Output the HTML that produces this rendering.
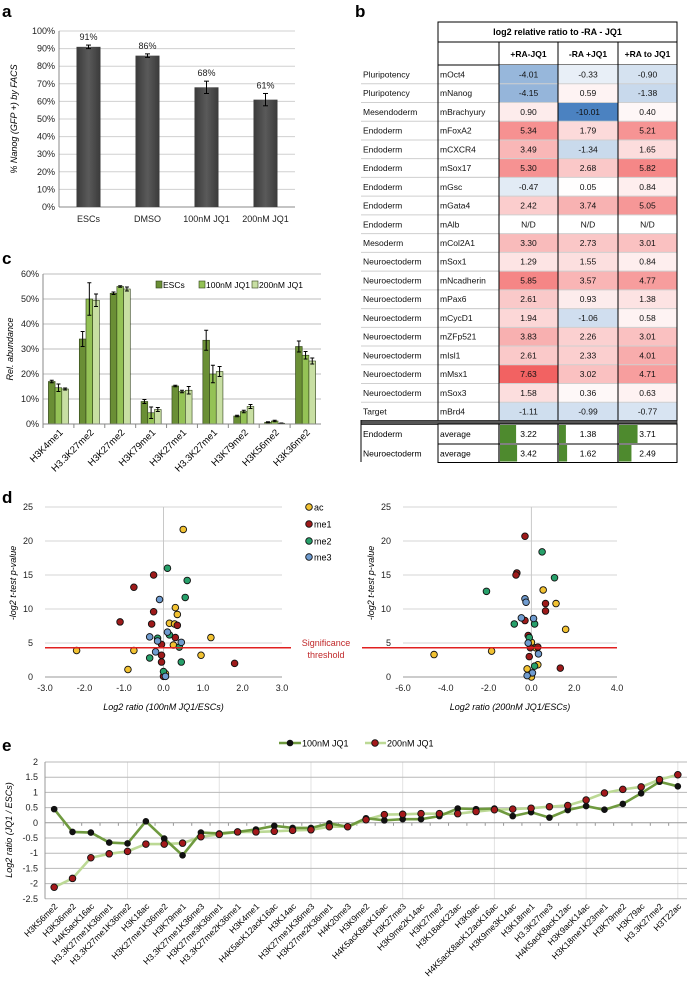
<!DOCTYPE html>
<html><head><meta charset="utf-8"><style>
html,body{margin:0;padding:0;background:#fff;}
svg{display:block;font-family:"Liberation Sans",sans-serif;}
</style></head><body>
<svg id="fig" width="687" height="990" viewBox="0 0 687 990" xmlns="http://www.w3.org/2000/svg"></svg>
<script>
// ---- Panel a data ----
const aCats=["ESCs","DMSO","100nM JQ1","200nM JQ1"];
const aVals=[91,86,68,61];
const aErr=[1,1,3.5,3.5];
const aTicks=[0,10,20,30,40,50,60,70,80,90,100];
// ---- Panel b data ----
const bCat=["Pluripotency","Pluripotency","Mesendoderm","Endoderm","Endoderm","Endoderm","Endoderm","Endoderm","Endoderm","Mesoderm","Neuroectoderm","Neuroectoderm","Neuroectoderm","Neuroectoderm","Neuroectoderm","Neuroectoderm","Neuroectoderm","Neuroectoderm","Target"];
const bGene=["mOct4","mNanog","mBrachyury","mFoxA2","mCXCR4","mSox17","mGsc","mGata4","mAlb","mCol2A1","mSox1","mNcadherin","mPax6","mCycD1","mZFp521","mIsl1","mMsx1","mSox3","mBrd4"];
const bCol1=[-4.01,-4.15,0.90,5.34,3.49,5.30,-0.47,2.42,null,3.30,1.29,5.85,2.61,1.94,3.83,2.61,7.63,1.58,-1.11];
const bCol2=[-0.33,0.59,-10.01,1.79,-1.34,2.68,0.05,3.74,null,2.73,1.55,3.57,0.93,-1.06,2.26,2.33,3.02,0.36,-0.99];
const bCol3=[-0.90,-1.38,0.40,5.21,1.65,5.82,0.84,5.05,null,3.01,0.84,4.77,1.38,0.58,3.01,4.01,4.71,0.63,-0.77];
const bHeads=["+RA-JQ1","-RA +JQ1","+RA to JQ1"];
const bAvgCat=["Endoderm","Neuroectoderm"];
const bAvgE=[3.22,1.38,3.71];
const bAvgN=[3.42,1.62,2.49];
// ---- Panel c data ----
const cCats=["H3K4me1","H3.3K27me2","H3K27me2","H3K79me1","H3K27me1","H3.3K27me1","H3K79me2","H3K56me2","H3K36me2"];
const cESC=[17,34,52.3,9,15.2,33.5,3.2,0.7,31];
const c100=[14.5,50,55,4.5,13,20,5,1.2,27.5];
const c200=[14,49.5,54,5.8,13.5,21,7,0.3,25.2];
const cESCerr=[0.5,3,0.5,0.8,0.3,4,0.3,0.2,2.2];
const c100err=[1.5,6.5,0.3,2.3,0.5,3.5,0.5,0.3,1.5];
const c200err=[0.4,2.5,0.8,0.8,1.5,2,0.8,0.1,1.2];
const cTicks=[0,10,20,30,40,50,60];
// ---- Panel d data ----
const dL_acX=[0.5,0.3,0.35,0.15,0.28,0.25,1.2,0.95,-0.75,-2.2,-0.9,0.05];
const dL_acY=[21.7,10.2,9.2,7.9,7.8,4.7,5.8,3.2,3.9,3.9,1.1,0.5];
const dL_me1X=[-0.25,-0.75,-1.1,-0.25,-0.3,0.35,0.3,-0.05,-0.05,-0.05,1.8,0];
const dL_me1Y=[15,13.2,8.1,9.6,7.8,7.6,5.8,4.8,3.2,2.2,2.0,0.1];
const dL_me2X=[0.1,0.6,0.55,0.15,-0.15,0.4,-0.35,0.45,0];
const dL_me2Y=[16,14.2,11.7,6.2,5.7,4.4,2.8,2.2,0.8];
const dL_me3X=[-0.1,0.1,-0.35,-0.15,0.45,-0.2,0.05];
const dL_me3Y=[11.4,6.6,5.9,5.3,5.1,3.7,0.1];
const dR_acX=[0.55,1.15,1.6,0,0.2,-1.86,-4.55,0.3,-0.2,0];
const dR_acY=[12.8,10.8,7.0,5.1,4.3,3.8,3.3,1.8,1.2,0];
const dR_me1X=[-0.3,-0.68,-0.72,0.66,0.66,-0.3,-0.15,-0.05,-0.1,1.35,0.3];
const dR_me1Y=[20.7,15.3,15.0,10.8,9.7,8.3,6.1,4.3,3.0,1.3,4.4];
const dR_me2X=[0.5,1.08,-2.1,-0.8,0.15,-0.1,0.15];
const dR_me2Y=[18.4,14.6,12.6,7.8,7.8,5.8,1.6];
const dR_me3X=[-0.3,-0.25,-0.47,0.1,-0.15,0.33,0.05,-0.2];
const dR_me3Y=[11.5,11.0,8.7,8.6,5.0,3.4,0.6,0.2];
const dYTicks=[0,5,10,15,20,25];
const dLXTicks=[-3,-2,-1,0,1,2,3];
const dRXTicks=[-6,-4,-2,0,2,4];
const dThreshold=4.3;
// ---- Panel e data ----
const eCats=["H3K56me2","H3K36me2","H4K5acK16ac","H3.3K27me1K36me1","H3.3K27me1K36me2","H3K18ac","H3K27me1K36me2","H3K79me1","H3.3K27me1K36me3","H3K27me3K36me1","H3.3K27me2K36me1","H3K4me1","H4K5acK12acK16ac","H3K14ac","H3K27me1K36me3","H3K27me2K36me1","H4K20me3","H3K9me2","H4K5acK8acK16ac","H3K27me3","H3K9me2K14ac","H3K27me2","H3K18acK23ac","H3K9ac","H4K5acK8acK12acK16ac","H3K9me3K14ac","H3K18me1","H3.3K27me3","H4K5acK8acK12ac","H3K9acK14ac","H3K18me1K23me1","H3K79me2","H3K79ac","H3.3K27me2","H3T22ac"];
const e100=[0.45,-0.3,-0.32,-0.65,-0.68,0.05,-0.52,-1.07,-0.32,-0.35,-0.3,-0.22,-0.1,-0.17,-0.17,-0.02,-0.13,0.15,0.08,0.12,0.12,0.22,0.47,0.45,0.47,0.22,0.35,0.17,0.42,0.55,0.43,0.62,0.97,1.35,1.2];
const e200=[-2.12,-1.83,-1.15,-1.02,-0.94,-0.7,-0.7,-0.67,-0.46,-0.38,-0.3,-0.3,-0.28,-0.25,-0.23,-0.13,-0.13,0.1,0.27,0.28,0.3,0.3,0.3,0.37,0.43,0.45,0.48,0.53,0.57,0.75,0.98,1.1,1.18,1.42,1.58];
const eTicks=[2,1.5,1,0.5,0,-0.5,-1,-1.5,-2,-2.5];

const NS="http://www.w3.org/2000/svg";
const svg=document.getElementById('fig');
function mk(tag,attrs,parent,text){const e=document.createElementNS(NS,tag);for(const k in attrs)e.setAttribute(k,attrs[k]);if(text!==undefined)e.textContent=text;(parent||svg).appendChild(e);return e;}
function grp(name){const g=mk('g',{});


return g;}

[["a",2,17],["b",355,17],["c",2,264],["d",2,503],["e",2,751]].forEach(p=>{const t=mk('text',{x:p[1],y:p[2],'font-size':17,'font-weight':'bold'},svg,p[0]);

});

// ===== Panel a =====
(function(){
const g=grp('panel-a-bar-chart');
const x0=59,x1=295,yb=207,yt=31;
const ya=v=>yb-(v/100)*(yb-yt);
aTicks.forEach(t=>{mk('line',{x1:x0,x2:x1,y1:ya(t),y2:ya(t),stroke:'#d0d0d0','stroke-width':1},g);
const tl=mk('text',{x:x0-4,y:ya(t)+3,'font-size':9,'text-anchor':'end',fill:'#222'},g,t+'%');

});
mk('line',{x1:x0,x2:x0,y1:yt,y2:yb,stroke:'#888'},g);
mk('line',{x1:x0,x2:x1,y1:yb,y2:yb,stroke:'#888'},g);
const defs=mk('defs',{},g);
const lg=mk('linearGradient',{id:'ga',x1:0,x2:1,y1:0,y2:0},defs);
mk('stop',{offset:0,'stop-color':'#3a3a3a'},lg);mk('stop',{offset:0.5,'stop-color':'#5a5a5a'},lg);mk('stop',{offset:1,'stop-color':'#3a3a3a'},lg);
const step=(x1-x0)/aCats.length;
aCats.forEach((c,i)=>{const cx=x0+step*(i+0.5);
const r=mk('rect',{x:cx-12,y:ya(aVals[i]),width:24,height:yb-ya(aVals[i]),fill:'url(#ga)'},g);


const e1=ya(aVals[i]+aErr[i]),e2=ya(aVals[i]-aErr[i]);
mk('line',{x1:cx,x2:cx,y1:e1,y2:e2,stroke:'#000'},g);mk('line',{x1:cx-2.5,x2:cx+2.5,y1:e1,y2:e1,stroke:'#000'},g);mk('line',{x1:cx-2.5,x2:cx+2.5,y1:e2,y2:e2,stroke:'#000'},g);
const vl=mk('text',{x:cx,y:e1-5,'font-size':9,'text-anchor':'middle',fill:'#222'},g,aVals[i]+'%');


const cl=mk('text',{x:cx,y:222,'font-size':9,'text-anchor':'middle',fill:'#222'},g,c);

});
const yt2=mk('text',{x:0,y:0,'font-size':9,'font-style':'italic','text-anchor':'middle',transform:'translate(17,119) rotate(-90)'},g,'% Nanog (GFP +) by FACS');


})();

// ===== Panel b =====
(function(){
const g=grp('panel-b-heatmap-table');
const cx=[361,438,499,558,618,677];
const top=22,h1=42,h2=65,rh=(421-65)/19;
function color(v){if(v===null)return '#ffffff';
if(v>=0){const t=Math.min(v/8,1);const r=255-Math.round(t*14),gg=255-Math.round(t*165),b=255-Math.round(t*165);return `rgb(${r},${gg},${b})`;}
const t=Math.min(-v/10,1);const k=Math.pow(t,0.6);return `rgb(${255-Math.round(k*180)},${255-Math.round(k*125)},${255-Math.round(k*62)})`;}
mk('rect',{x:cx[1],y:top,width:cx[5]-cx[1],height:h2-top,fill:'#fff',stroke:'#000','stroke-width':1},g);
mk('line',{x1:cx[1],x2:cx[5],y1:h1,y2:h1,stroke:'#000'},g);
const ht=mk('text',{x:(cx[1]+cx[5])/2,y:35,'font-size':9,'font-weight':'bold','text-anchor':'middle'},g,'log2 relative ratio to -RA - JQ1');


bHeads.forEach((h,j)=>{mk('line',{x1:cx[j+2],x2:cx[j+2],y1:h1,y2:h2,stroke:'#000'},g);
const t=mk('text',{x:(cx[j+2]+cx[j+3])/2,y:57,'font-size':8.5,'font-weight':'bold','text-anchor':'middle'},g,h);

});
const cols=[bCol1,bCol2,bCol3];
bGene.forEach((gname,i)=>{const y=h2+rh*i;
mk('line',{x1:cx[0],x2:cx[5],y1:y+rh,y2:y+rh,stroke:'#cfcfcf'},g);
cols.forEach((col,j)=>{const r=mk('rect',{x:cx[j+2],y:y,width:cx[j+3]-cx[j+2],height:rh,fill:color(col[i])},g);


const t=mk('text',{x:(cx[j+2]+cx[j+3])/2,y:y+rh/2+3,'font-size':8.5,'text-anchor':'middle',fill:'#111'},g,col[i]===null?'N/D':col[i].toFixed(2));

});
const c=mk('text',{x:cx[0]+2,y:y+rh/2+3,'font-size':8.5,fill:'#111'},g,bCat[i]);


const gn=mk('text',{x:cx[1]+2,y:y+rh/2+3,'font-size':8.5,fill:'#111'},g,gname);

});
for(let i=0;i<19;i++){mk('line',{x1:cx[1],x2:cx[5],y1:h2+rh*(i+1),y2:h2+rh*(i+1),stroke:'#cfcfcf'},g);}
[1,2,3,4,5].forEach(k=>mk('line',{x1:cx[k],x2:cx[k],y1:h2,y2:421,stroke:'#000'},g));
mk('rect',{x:cx[0],y:420.5,width:cx[5]-cx[0],height:4,fill:'#555',stroke:'#222','stroke-width':0.8},g);
const avgs=[bAvgE,bAvgN];const ay=[424,444],ah=[20,18.5];
avgs.forEach((arr,i)=>{const y=ay[i];
mk('rect',{x:cx[1],y:y,width:cx[5]-cx[1],height:ah[i],fill:'#fff',stroke:'#000'},g);
const c=mk('text',{x:cx[0]+2,y:y+ah[i]/2+3,'font-size':8.5},g,bAvgCat[i]);


mk('text',{x:cx[1]+2,y:y+ah[i]/2+3,'font-size':8.5},g,'average');
arr.forEach((v,j)=>{const x=cx[j+2];
mk('line',{x1:x,x2:x,y1:y,y2:y+ah[i],stroke:'#000','stroke-width':1.2},g);
const b=mk('rect',{x:x+1,y:y+1,width:v*5,height:ah[i]-2,fill:'#4e8a2e'},g);


const t=mk('text',{x:(x+cx[j+3])/2,y:y+ah[i]/2+3,'font-size':8.5,'text-anchor':'middle'},g,v.toFixed(2));

});});
mk('line',{x1:cx[0],x2:cx[0],y1:420,y2:462,stroke:'#000'},g);
})();

// ===== Panel c =====
(function(){
const g=grp('panel-c-grouped-bar-chart');
const x0=43,x1=321,yb=424,yt=274;
const yc=v=>yb-(v/60)*(yb-yt);
cTicks.forEach(t=>{mk('line',{x1:x0,x2:x1,y1:yc(t),y2:yc(t),stroke:'#bdbdbd'},g);
const tl=mk('text',{x:x0-4,y:yc(t)+3,'font-size':9,'text-anchor':'end',fill:'#222'},g,t+'%');

});
mk('line',{x1:x0,x2:x0,y1:yt,y2:yb,stroke:'#888'},g);
const step=(x1-x0)/cCats.length,bw=6.7;
const series=[[cESC,cESCerr,'#6a8f35'],[c100,c100err,'#94c256'],[c200,c200err,'#c8dfa3']];
cCats.forEach((c,i)=>{const cx=x0+step*(i+0.5);
mk('line',{x1:x0+step*i,x2:x0+step*i,y1:yb,y2:yb+4,stroke:'#888'},g);
series.forEach((s,k)=>{const bx=cx+(k-1)*bw-bw/2;const v=s[0][i];
const r=mk('rect',{x:bx,y:yc(v),width:bw,height:yb-yc(v),fill:s[2],stroke:'#2e3f18','stroke-width':0.6},g);


const e1=yc(v+s[1][i]),e2=yc(Math.max(0,v-s[1][i])),ex=bx+bw/2;
mk('line',{x1:ex,x2:ex,y1:e1,y2:e2,stroke:'#000'},g);mk('line',{x1:ex-2,x2:ex+2,y1:e1,y2:e1,stroke:'#000'},g);mk('line',{x1:ex-2,x2:ex+2,y1:e2,y2:e2,stroke:'#000'},g);});
const tl=mk('text',{x:0,y:0,'font-size':9.5,'text-anchor':'end',transform:`translate(${cx+5},${433}) rotate(-45)`},g,c);

});
mk('line',{x1:x0,x2:x1,y1:yb,y2:yb,stroke:'#888'},g);
const ytl=mk('text',{x:0,y:0,'font-size':9,'font-style':'italic','text-anchor':'middle',transform:'translate(13,349) rotate(-90)'},g,'Rel. abundance');


[["ESCs",156,'#6a8f35'],["100nM JQ1",199,'#94c256'],["200nM JQ1",252,'#c8dfa3']].forEach(l=>{
const le=mk('g',{},g);


mk('rect',{x:l[1],y:281,width:6,height:7,fill:l[2],stroke:'#2e3f18','stroke-width':0.6},le);
mk('text',{x:l[1]+7,y:288,'font-size':8.5},le,l[0]);});
})();

// ===== Panel d =====
function scatter(name,x0,x1,xmin,xmax,xticks,sets,showLegend,xtitle,ylx){
const g=grp(name);
const yb=677,yt=507;
const yd=v=>yb-(v/25)*(yb-yt);
const xd=v=>x0+(v-xmin)/(xmax-xmin)*(x1-x0);
dYTicks.forEach(t=>{if(t>0)mk('line',{x1:x0,x2:x1,y1:yd(t),y2:yd(t),stroke:'#d5d5d5'},g);
const tl=mk('text',{x:x0-12,y:yd(t)+3,'font-size':9,'text-anchor':'end',fill:'#222'},g,t);

});
mk('line',{x1:xd(0),x2:xd(0),y1:yt,y2:yb,stroke:'#c8c8c8'},g);
mk('line',{x1:x0,x2:x1,y1:yb,y2:yb,stroke:'#999'},g);
xticks.forEach(t=>{const tl=mk('text',{x:xd(t),y:691,'font-size':9,'text-anchor':'middle',fill:'#222'},g,t.toFixed(1));

});
sets.forEach(s=>{s[0].forEach((xv,i)=>{const c=mk('circle',{cx:xd(xv),cy:yd(s[1][i]),r:3.3,fill:s[2],stroke:'#111','stroke-width':0.9},g);

});});
const xt=mk('text',{x:(x0+x1)/2,y:710,'font-size':9,'font-style':'italic','text-anchor':'middle'},g,xtitle);


const yt2=mk('text',{x:0,y:0,'font-size':9,'font-style':'italic','text-anchor':'middle',transform:`translate(${ylx},583) rotate(-90)`},g,'-log2 t-test p-value');


return yd;}
const cols={ac:'#f2c232',me1:'#9e1a1a',me2:'#27a06a',me3:'#6f9bcf'};
const ydL=scatter('panel-d-left-scatter',45,282,-3,3,dLXTicks,[[dL_acX,dL_acY,cols.ac,'ac'],[dL_me1X,dL_me1Y,cols.me1,'me1'],[dL_me2X,dL_me2Y,cols.me2,'me2'],[dL_me3X,dL_me3Y,cols.me3,'me3']],true,'Log2 ratio (100nM JQ1/ESCs)',16);
scatter('panel-d-right-scatter',403,617,-6,4,dRXTicks,[[dR_acX,dR_acY,cols.ac,'ac'],[dR_me1X,dR_me1Y,cols.me1,'me1'],[dR_me2X,dR_me2Y,cols.me2,'me2'],[dR_me3X,dR_me3Y,cols.me3,'me3']],false,'Log2 ratio (200nM JQ1/ESCs)',374);
(function(){
const g=grp('significance-threshold');
const y=ydL(dThreshold);
mk('line',{x1:45,x2:291,y1:y,y2:y,stroke:'#e02020','stroke-width':1.6},g);
mk('line',{x1:362,x2:617,y1:y,y2:y,stroke:'#e02020','stroke-width':1.6},g);
mk('text',{x:326,y:646,'font-size':9,'text-anchor':'middle',fill:'#c0282a'},g,'Significance');
mk('text',{x:326,y:658,'font-size':9,'text-anchor':'middle',fill:'#c0282a'},g,'threshold');
const lg=grp('panel-d-legend');
[["ac",507],["me1",524],["me2",541],["me3",557]].forEach(l=>{const e=mk('g',{},lg);


mk('circle',{cx:309,cy:l[1],r:3.3,fill:cols[l[0]],stroke:'#111','stroke-width':0.9},e);
mk('text',{x:314,y:l[1]+3.5,'font-size':9},e,l[0]);});
})();

// ===== Panel e =====
(function(){
const g=grp('panel-e-line-chart');
const x0=45,x1=687;
const ye=v=>762+(2-v)*30.4;
const step=(x1-x0)/eCats.length;
const xe=i=>x0+step*(i+0.5);
eCats.forEach((c,i)=>{if(i%5===4)mk('line',{x1:xe(i),x2:xe(i),y1:ye(2),y2:ye(-2.5),stroke:'#e2e2e2'},g);});
eTicks.forEach(t=>{mk('line',{x1:x0,x2:x1,y1:ye(t),y2:ye(t),stroke:t===0?'#999':'#b8b8b8'},g);
const tl=mk('text',{x:x0-7,y:ye(t)+3,'font-size':9,'text-anchor':'end',fill:'#222'},g,String(t));

});
mk('line',{x1:x0,x2:x0,y1:ye(2),y2:ye(-2.5),stroke:'#999'},g);
eCats.forEach((c,i)=>{mk('line',{x1:x0+step*i,x2:x0+step*i,y1:ye(0),y2:ye(0)+3,stroke:'#999'},g);
const tl=mk('text',{x:0,y:0,'font-size':8.6,'text-anchor':'end',transform:`translate(${xe(i)+4},${907}) rotate(-45)`},g,c);

});
const p2=mk('polyline',{points:e200.map((v,i)=>xe(i)+','+ye(v)).join(' '),fill:'none',stroke:'#bcd995','stroke-width':2.6},g);


const p1=mk('polyline',{points:e100.map((v,i)=>xe(i)+','+ye(v)).join(' '),fill:'none',stroke:'#6f9a3f','stroke-width':2.6},g);


e100.forEach((v,i)=>{const c=mk('circle',{cx:xe(i),cy:ye(v),r:3.3,fill:'#111'},g);

});
e200.forEach((v,i)=>{const c=mk('circle',{cx:xe(i),cy:ye(v),r:3.3,fill:'#a3191b',stroke:'#111','stroke-width':0.9},g);

});
const yt=mk('text',{x:0,y:0,'font-size':9,'font-style':'italic','text-anchor':'middle',transform:'translate(12,830) rotate(-90)'},g,'Log2 ratio (JQ1 / ESCs)');


const l1=mk('g',{},g);


mk('line',{x1:279,x2:301,y1:743,y2:743,stroke:'#6f9a3f','stroke-width':2.6},l1);
mk('circle',{cx:290,cy:743,r:3.3,fill:'#111'},l1);
mk('text',{x:302,y:746.5,'font-size':9},l1,'100nM JQ1');
const l2=mk('g',{},g);


mk('line',{x1:365,x2:386,y1:743,y2:743,stroke:'#bcd995','stroke-width':2.6},l2);
mk('circle',{cx:375,cy:743,r:3.3,fill:'#a3191b',stroke:'#111','stroke-width':0.9},l2);
mk('text',{x:387,y:746.5,'font-size':9},l2,'200nM JQ1');
})();
</script>
</body></html>
